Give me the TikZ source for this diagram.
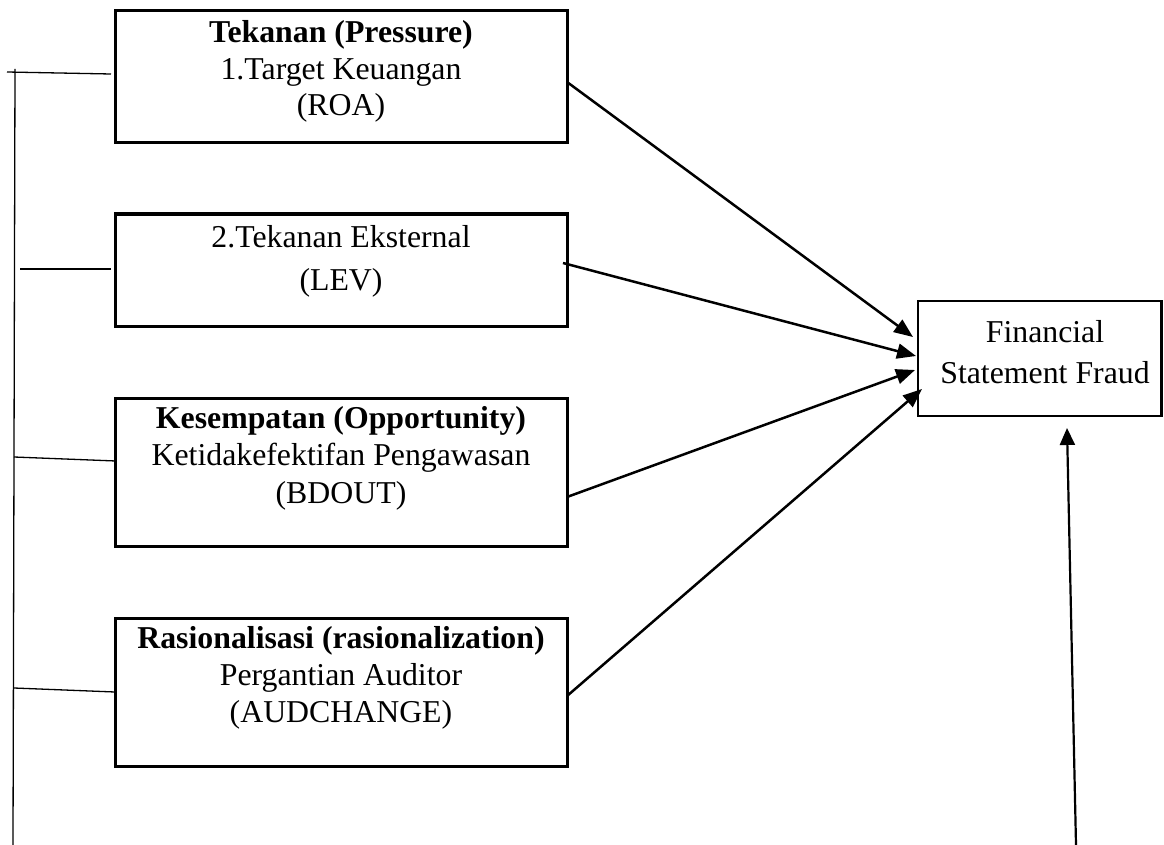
\documentclass[tikz,border=0pt]{standalone}
\usepackage{fontspec}
\setmainfont{Liberation Serif}
\usetikzlibrary{arrows.meta,calc}
\begin{document}
\begin{tikzpicture}[x=1pt,y=-1pt,
  box/.style={draw, line width=3pt, inner sep=0pt, outer sep=0pt, minimum width=452pt},
  fsfbox/.style={draw, line width=2.3pt, inner sep=0pt, outer sep=0pt},
  txt/.style={font=\fontsize{31.8}{37}\selectfont, inner sep=0pt, anchor=base},
  btxt/.style={txt, font=\fontsize{31.8}{37}\selectfont\bfseries},
  arr/.style={line width=2.5pt, -{Triangle[length=19pt,width=15pt]}},
  varr/.style={line width=2.2pt, -{Triangle[length=17pt,width=15pt]}},
  thinline/.style={line width=1.3pt}]
\useasboundingbox (0,0) rectangle (1164,845);

% boxes
\node[box, minimum height=132pt] (b1) at (341,77) {};
\node[box, minimum height=112pt] (b2) at (341,270) {};
\node[box, minimum height=148pt] (b3) at (341,472) {};
\node[box, minimum height=148pt] (b4) at (341,692) {};
\node[fsfbox, minimum width=243.5pt, minimum height=115pt] (fsf) at (1039.75,358.5) {};

% texts
\node[btxt] (t1a) at (341,43) {Tekanan (Pressure)};
\node[txt] (t1b) at (341,80) {1.Target Keuangan};
\node[txt] (t1c) at (341,116) {(ROA)};
\node[txt] (t2a) at (341,247) {2.Tekanan Eksternal};
\node[txt] (t2b) at (341,290) {(LEV)};
\node[btxt] (t3a) at (341,428) {Kesempatan (Opportunity)};
\node[txt] (t3b) at (341,465) {Ketidakefektifan Pengawasan};
\node[txt] (t3c) at (341,503) {(BDOUT)};
\node[btxt] (t4a) at (341,648) {Rasionalisasi (rasionalization)};
\node[txt] (t4b) at (341,685) {Pergantian Auditor};
\node[txt] (t4c) at (341,722) {(AUDCHANGE)};
\node[txt] (tf1) at (1045,342) {Financial};
\node[txt] (tf2) at (1045,383) {Statement Fraud};

% left bracket line
\coordinate (vtop) at (15,69);
\coordinate (vbot) at (13,845);
\draw[thinline] (vtop) -- (vbot);
\coordinate (k1) at (7,72);
\coordinate (k2) at (20,269);
\coordinate (k3) at (14,457);
\coordinate (k4) at (14,688);
\draw[thinline] (k1) -- ($(b1.west)+(-4,-3)$);
\draw[thinline] (k2) -- ($(b2.west)+(-4,-1)$);
\draw[thinline] (k3) -- ($(b3.west)+(1,-11)$);
\draw[thinline] (k4) -- ($(b4.west)+(0,0)$);

% arrows to FSF
\coordinate (tip1) at (913,337);
\coordinate (tip2) at (916,356);
\coordinate (tip3) at (915,370);
\coordinate (tip4) at (922,389);
\draw[arr] ($(b1.east)+(0,5)$) -- (tip1);
\draw[arr] ($(b2.east)+(-4,-7)$) -- (tip2);
\draw[arr] ($(b3.east)+(0,25)$) -- (tip3);
\draw[arr] ($(b4.east)+(0,4)$) -- (tip4);

% vertical arrow
\coordinate (vstart) at (1076,845);
\coordinate (vtip) at (1067,428);
\draw[varr] (vstart) -- (vtip);
\end{tikzpicture}
\end{document}
